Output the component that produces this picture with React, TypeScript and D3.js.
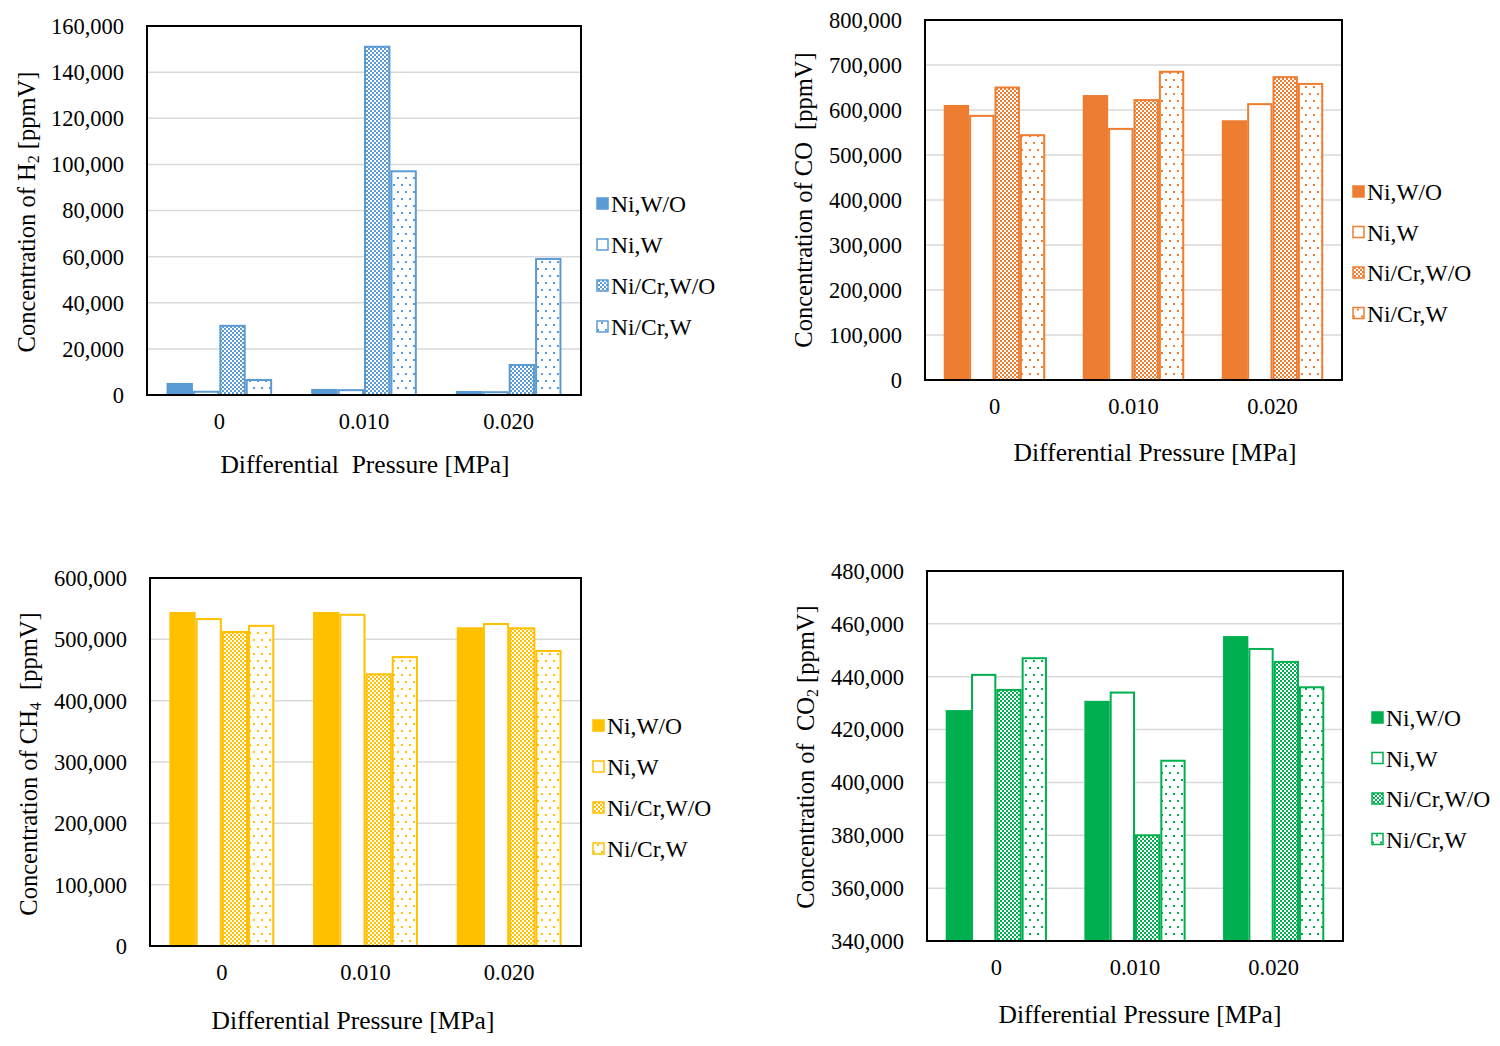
import React, { useEffect, useRef } from 'react';
import * as d3 from 'd3';

const categories = ['0', '0.010', '0.020'];
const seriesNames = ['Ni,W/O', 'Ni,W', 'Ni/Cr,W/O', 'Ni/Cr,W'];

// values per series (rows) for each differential pressure (columns)
const h2Values = [
  [4800, 2200, 1300],
  [1400, 2100, 1200],
  [30000, 151000, 13000],
  [6500, 97000, 59000],
];
const coValues = [
  [609000, 631000, 575000],
  [587000, 558000, 613000],
  [650000, 622000, 673000],
  [544000, 685000, 658000],
];
const ch4Values = [
  [543000, 543000, 518000],
  [533000, 540000, 525000],
  [512000, 443000, 518000],
  [522000, 471000, 481000],
];
const co2Values = [
  [427000, 430500, 455000],
  [440700, 434000, 450500],
  [435000, 380000, 445600],
  [447000, 408200, 436000],
];

const h2Ticks = d3.range(0, 160001, 20000);
const coTicks = d3.range(0, 800001, 100000);
const ch4Ticks = d3.range(0, 600001, 100000);
const co2Ticks = d3.range(340000, 480001, 20000);

interface PanelSpec {
  key: string;
  color: string;
  values: number[][];
  ticks: number[];
  box: { l: number; t: number; r: number; b: number };
  yTitle: { x: number; y: number; parts: [string, string, string] };
  xTitle: { x: number; y: number; text: string };
  legend: { x: number; y: number; gap: number };
}

const panels: PanelSpec[] = [
  {
    key: 'h2', color: '#5b9bd5', values: h2Values, ticks: h2Ticks,
    box: { l: 147, t: 26, r: 581, b: 395 },
    yTitle: { x: 26, y: 212, parts: ['Concentration of H', '2', ' [ppmV]'] },
    xTitle: { x: 365, y: 473, text: 'Differential  Pressure [MPa]' },
    legend: { x: 596, y: 204, gap: 41 },
  },
  {
    key: 'co', color: '#ed7d31', values: coValues, ticks: coTicks,
    box: { l: 925, t: 20, r: 1342, b: 380 },
    yTitle: { x: 803, y: 200, parts: ['Concentration of CO  [ppmV]', '', ''] },
    xTitle: { x: 1155, y: 461, text: 'Differential Pressure [MPa]' },
    legend: { x: 1352, y: 192, gap: 40.5 },
  },
  {
    key: 'ch4', color: '#ffc000', values: ch4Values, ticks: ch4Ticks,
    box: { l: 150, t: 578, r: 581, b: 946 },
    yTitle: { x: 28, y: 764, parts: ['Concentration of CH', '4', '  [ppmV]'] },
    xTitle: { x: 353, y: 1029, text: 'Differential Pressure [MPa]' },
    legend: { x: 592, y: 726, gap: 41 },
  },
  {
    key: 'co2', color: '#00b050', values: co2Values, ticks: co2Ticks,
    box: { l: 927, t: 571, r: 1343, b: 941 },
    yTitle: { x: 805, y: 757, parts: ['Concentration of  CO', '2', ' [ppmV]'] },
    xTitle: { x: 1140, y: 1023, text: 'Differential Pressure [MPa]' },
    legend: { x: 1371, y: 718, gap: 40.5 },
  },
];

const font = '"Liberation Serif", "Times New Roman", serif';

export default function App() {
  const svgRef = useRef<SVGSVGElement>(null);
  const width = 1500;
  const height = 1046;

  useEffect(() => {
    if (!svgRef.current) return;
    const svg = d3.select(svgRef.current);
    svg.selectAll('*').remove();
    const defs = svg.append('defs');

    panels.forEach(p => {
      // checker pattern
      const chk = defs.append('pattern').attr('id', `chk-${p.key}`).attr('patternUnits', 'userSpaceOnUse')
        .attr('width', 4).attr('height', 4);
      chk.append('rect').attr('width', 4).attr('height', 4).attr('fill', '#fff');
      chk.append('rect').attr('width', 2).attr('height', 2).attr('fill', p.color);
      chk.append('rect').attr('x', 2).attr('y', 2).attr('width', 2).attr('height', 2).attr('fill', p.color);
      // dotted pattern
      const dot = defs.append('pattern').attr('id', `dot-${p.key}`).attr('patternUnits', 'userSpaceOnUse')
        .attr('width', 8).attr('height', 14);
      dot.append('rect').attr('width', 8).attr('height', 14).attr('fill', '#fff');
      dot.append('rect').attr('x', 1).attr('y', 2).attr('width', 2).attr('height', 2).attr('fill', p.color);
      dot.append('rect').attr('x', 5).attr('y', 9).attr('width', 2).attr('height', 2).attr('fill', p.color);

      const fills = [p.color, '#fff', `url(#chk-${p.key})`, `url(#dot-${p.key})`];
      const { l, t, r, b } = p.box;
      const g = svg.append('g');

      const y = d3.scaleLinear().domain(d3.extent(p.ticks) as [number, number]).range([b, t]);
      const x0 = d3.scaleBand<string>().domain(categories).range([l, r]).padding(0);
      const x1 = d3.scaleBand<string>().domain(seriesNames)
        .range([x0.bandwidth() * 0.135, x0.bandwidth() * 0.865]).padding(0);

      // gridlines
      g.append('g').selectAll('line').data(p.ticks.slice(1)).enter().append('line')
        .attr('x1', l).attr('x2', r).attr('y1', d => y(d)).attr('y2', d => y(d))
        .attr('stroke', '#d9d9d9').attr('stroke-width', 1.5);

      // bars
      seriesNames.forEach((s, si) => {
        g.append('g').selectAll('rect').data(p.values[si]).enter().append('rect')
          .attr('x', (d, i) => (x0(categories[i]) ?? 0) + (x1(s) ?? 0) + 1)
          .attr('y', d => y(d))
          .attr('width', x1.bandwidth() - 2)
          .attr('height', d => y.range()[0] - y(d))
          .attr('fill', fills[si])
          .attr('stroke', p.color).attr('stroke-width', 2);
      });

      // frame
      g.append('rect').attr('x', l).attr('y', t).attr('width', r - l).attr('height', b - t)
        .attr('fill', 'none').attr('stroke', '#000').attr('stroke-width', 2);

      // y tick labels
      g.append('g').selectAll('text').data(p.ticks).enter().append('text')
        .attr('x', l - 23).attr('y', d => y(d)).attr('dy', '0.35em').attr('text-anchor', 'end')
        .style('font-family', font).style('font-size', '22.5px').attr('fill', '#000')
        .text(d => d3.format(',')(d));

      // x tick labels
      g.append('g').selectAll('text').data(categories).enter().append('text')
        .attr('x', d => (x0(d) ?? 0) + x0.bandwidth() / 2).attr('y', b + 26).attr('dy', '0.35em')
        .attr('text-anchor', 'middle')
        .style('font-family', font).style('font-size', '22.5px').attr('fill', '#000')
        .text(d => d);

      // axis titles
      g.append('text').attr('x', p.xTitle.x).attr('y', p.xTitle.y).attr('text-anchor', 'middle')
        .style('font-family', font).style('font-size', '25.5px').attr('fill', '#000')
        .style('white-space', 'pre').text(p.xTitle.text);

      const yt = g.append('text').attr('transform', `translate(${p.yTitle.x},${p.yTitle.y}) rotate(-90)`)
        .attr('text-anchor', 'middle').attr('dy', '0.35em')
        .style('font-family', font).style('font-size', '24.5px').attr('fill', '#000')
        .style('white-space', 'pre');
      yt.append('tspan').text(p.yTitle.parts[0]);
      if (p.yTitle.parts[1]) {
        yt.append('tspan').attr('dy', 4).style('font-size', '16px').text(p.yTitle.parts[1]);
        yt.append('tspan').attr('dy', -4).text(p.yTitle.parts[2]);
      }

      // legend
      const lg = g.append('g').attr('transform', `translate(${p.legend.x},${p.legend.y})`);
      seriesNames.forEach((s, si) => {
        const item = lg.append('g').attr('transform', `translate(0,${si * p.legend.gap})`);
        item.append('rect').attr('x', 1).attr('y', -6).attr('width', 11).attr('height', 11)
          .attr('fill', fills[si]).attr('stroke', p.color).attr('stroke-width', 1.5);
        item.append('text').attr('x', 15).attr('y', 0).attr('dy', '0.35em')
          .style('font-family', font).style('font-size', '23.5px').attr('fill', '#000').text(s);
      });
    });
  }, []);

  return (
    <svg ref={svgRef} width={width} height={height} viewBox={`0 0 ${width} ${height}`}
      style={{ position: 'absolute', left: 0, top: 0, background: '#fff' }} />
  );
}
